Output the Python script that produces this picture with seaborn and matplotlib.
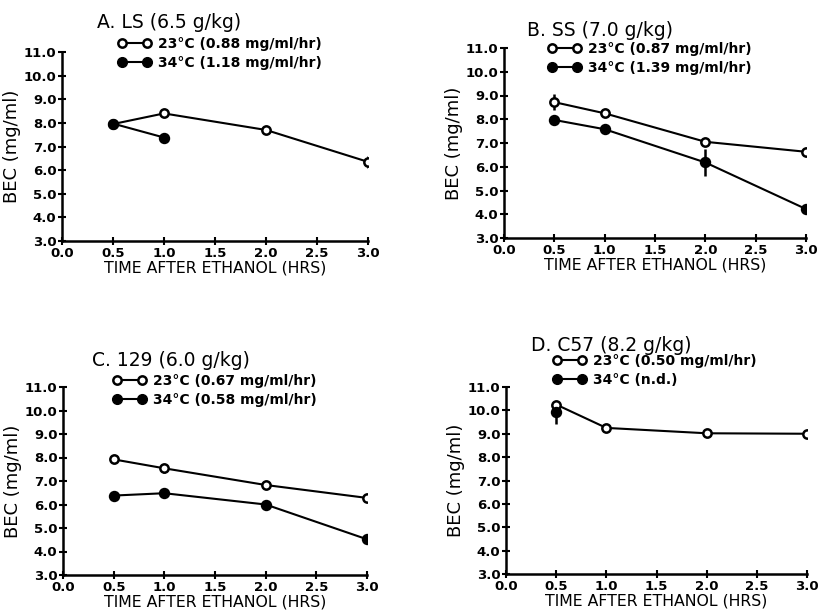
import numpy as np
import pandas as pd
import matplotlib
matplotlib.use("Agg")
import matplotlib.pyplot as plt
from matplotlib.lines import Line2D
import seaborn as sns

sns.set_theme(style="ticks")
plt.rcParams['font.family'] = ['DejaVu Sans']
plt.rcParams['text.color'] = 'black'
plt.rcParams['axes.labelcolor'] = 'black'
plt.rcParams['xtick.color'] = 'black'
plt.rcParams['ytick.color'] = 'black'

# ---- data ----
panel_titles = ["A. LS (6.5 g/kg)", "B. SS (7.0 g/kg)", "C. 129 (6.0 g/kg)", "D. C57 (8.2 g/kg)"]
legend_23 = ["23°C (0.88 mg/ml/hr)", "23°C (0.87 mg/ml/hr)", "23°C (0.67 mg/ml/hr)", "23°C (0.50 mg/ml/hr)"]
legend_34 = ["34°C (1.18 mg/ml/hr)", "34°C (1.39 mg/ml/hr)", "34°C (0.58 mg/ml/hr)", "34°C (n.d.)"]

# Panel A (LS)
a_t23 = [0.5, 1.0, 2.0, 3.0]
a_v23 = [7.95, 8.4, 7.7, 6.35]
a_e23 = [0.0, 0.0, 0.0, 0.25]
a_t34 = [0.5, 1.0]
a_v34 = [7.97, 7.38]
a_e34 = [0.15, 0.0]

# Panel B (SS)
b_t23 = [0.5, 1.0, 2.0, 3.0]
b_v23 = [8.72, 8.25, 7.05, 6.63]
b_e23 = [0.35, 0.0, 0.0, 0.0]
b_t34 = [0.5, 1.0, 2.0, 3.0]
b_v34 = [7.97, 7.58, 6.18, 4.22]
b_e34 = [0.0, 0.0, 0.55, 0.0]

# Panel C (129)
c_t23 = [0.5, 1.0, 2.0, 3.0]
c_v23 = [7.92, 7.54, 6.83, 6.28]
c_e23 = [0.0, 0.18, 0.0, 0.18]
c_t34 = [0.5, 1.0, 2.0, 3.0]
c_v34 = [6.38, 6.48, 6.0, 4.52]
c_e34 = [0.0, 0.0, 0.0, 0.18]

# Panel D (C57)
d_t23 = [0.5, 1.0, 2.0, 3.0]
d_v23 = [10.25, 9.25, 9.02, 9.0]
d_e23 = [0.0, 0.15, 0.13, 0.0]
d_t34 = [0.5]
d_v34 = [9.92]
d_e34 = [0.5]

x_ticks = [0.0, 0.5, 1.0, 1.5, 2.0, 2.5, 3.0]
y_ticks = [3.0, 4.0, 5.0, 6.0, 7.0, 8.0, 9.0, 10.0, 11.0]

panels = [
    (a_t23, a_v23, a_e23, a_t34, a_v34, a_e34),
    (b_t23, b_v23, b_e23, b_t34, b_v34, b_e34),
    (c_t23, c_v23, c_e23, c_t34, c_v34, c_e34),
    (d_t23, d_v23, d_e23, d_t34, d_v34, d_e34),
]

W, H = 818, 615
fig = plt.figure(figsize=(W / 100, H / 100), dpi=100)

# axes boxes in pixels: left, right, top, bottom
boxes = [(62, 368, 52, 241), (504, 806, 48, 238), (63, 367, 387, 575), (506, 807, 387, 574)]
title_pos = [(97, 23), (527, 30), (92, 360), (531, 345)]
legend_pos = [(118, 37), (548, 42), (113, 374), (553, 354)]

for i, (box, data) in enumerate(zip(boxes, panels)):
    l, r, t, b = box
    ax = fig.add_axes([l / W, 1 - b / H, (r - l) / W, (b - t) / H])
    t23, v23, e23, t34, v34, e34 = data

    df23 = pd.DataFrame({"t": t23, "v": v23})
    df34 = pd.DataFrame({"t": t34, "v": v34})

    ax.errorbar(t23, v23, yerr=e23, fmt='none', ecolor='black', elinewidth=1.8, capsize=0, zorder=2)
    ax.errorbar(t34, v34, yerr=e34, fmt='none', ecolor='black', elinewidth=1.8, capsize=0, zorder=2)

    sns.lineplot(data=df23, x="t", y="v", ax=ax, color="black", linewidth=1.5,
                 marker="o", markersize=6, markerfacecolor="white",
                 markeredgecolor="black", markeredgewidth=1.8, zorder=3)
    sns.lineplot(data=df34, x="t", y="v", ax=ax, color="black", linewidth=1.5,
                 marker="o", markersize=7, markerfacecolor="black",
                 markeredgecolor="black", markeredgewidth=1.2, zorder=4)

    ax.set_xlim(0, 3.0)
    ax.set_ylim(3.0, 11.0)
    ax.set_xticks(x_ticks)
    ax.set_yticks(y_ticks)
    ax.set_xticklabels([f"{v:.1f}" for v in x_ticks], fontsize=9.5, fontweight='bold')
    ax.set_yticklabels([f"{v:.1f}" for v in y_ticks], fontsize=9.5, fontweight='bold')
    ax.tick_params(direction='inout', length=6, width=1.5, pad=1, colors='black')
    for s in ['top', 'right']:
        ax.spines[s].set_visible(False)
    for s in ['left', 'bottom']:
        ax.spines[s].set_linewidth(1.8)
        ax.spines[s].set_color('black')
    ax.set_xlabel("TIME AFTER ETHANOL (HRS)", fontsize=11.3, labelpad=1, color='black')
    ax.set_ylabel("BEC (mg/ml)", fontsize=13, labelpad=2, color='black')
    ax.set_facecolor('white')

    tx, ty = title_pos[i]
    fig.text(tx / W, 1 - ty / H, panel_titles[i], fontsize=13.5, va='center', ha='left', color='black')

    h23 = Line2D([], [], color='black', linewidth=1.5, marker='o', markersize=6,
                 markerfacecolor='white', markeredgecolor='black', markeredgewidth=1.8)
    h34 = Line2D([], [], color='black', linewidth=1.5, marker='o', markersize=7,
                 markerfacecolor='black', markeredgecolor='black')
    lx, ly = legend_pos[i]
    fig.legend([h23, h34], [legend_23[i], legend_34[i]], loc='upper left',
               bbox_to_anchor=(lx / W, 1 - ly / H), bbox_transform=fig.transFigure,
               frameon=False, numpoints=2, handlelength=2.4, handletextpad=0.5,
               borderpad=0, borderaxespad=0, labelspacing=0.35,
               prop={'size': 10, 'weight': 'bold'}, labelcolor='black')

fig.savefig("out.png", dpi=100, facecolor='white')
